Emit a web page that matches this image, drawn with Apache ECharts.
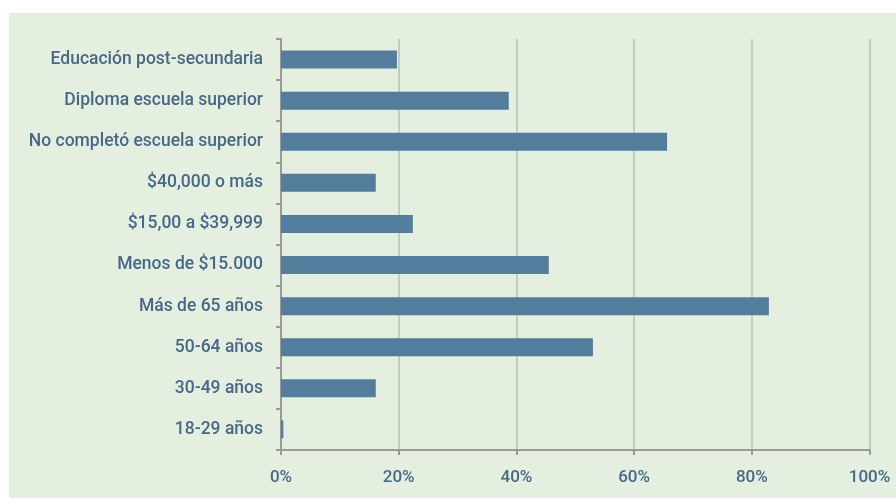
<!DOCTYPE html>
<html><head><meta charset="utf-8">
<script src="https://cdn.jsdelivr.net/npm/echarts@6/dist/echarts.min.js"></script>
<style>html,body{margin:0;padding:0;background:#fff}#c{width:896px;height:498px}</style>
</head><body><div id="c"></div>
<script>
var categories = ["18-29 años","30-49 años","50-64 años","Más de 65 años","Menos de $15.000","$15,00 a $39,999","$40,000 o más","No completó escuela superior","Diploma escuela superior","Educación post-secundaria"];
var values = [0.4,16.1,53.0,82.9,45.5,22.4,16.1,65.6,38.7,19.7];
var xTicks = [0,20,40,60,80,100];
var textColor = '#46698a';
var chart = echarts.init(document.getElementById('c'), null, {renderer:'canvas'});
chart.setOption({
  backgroundColor:'#ffffff',
  animation:false,
  graphic:[{type:'rect',left:9,top:13,shape:{width:887,height:485},style:{fill:'#e4efdf'},z:-10}],
  grid:{left:281,right:26.5,top:39,bottom:48,containLabel:false},
  xAxis:{type:'value',min:xTicks[0],max:xTicks[xTicks.length-1],interval:20,
    axisLine:{show:true,lineStyle:{color:'#999999',width:2}},
    axisTick:{show:true,length:5,lineStyle:{color:'#999999',width:2}},
    splitLine:{show:true,lineStyle:{color:'#c3cdbd',width:2}},
    axisLabel:{formatter:'{value}%',color:textColor,fontFamily:'Roboto',fontWeight:500,fontSize:17,margin:19}},
  yAxis:{type:'category',data:categories,
    axisLine:{show:true,lineStyle:{color:'#999999',width:2}},
    axisTick:{show:true,length:5,lineStyle:{color:'#999999',width:2}},
    axisLabel:{color:textColor,fontFamily:'Roboto',fontWeight:500,fontSize:17.5,margin:18}},
  series:[{type:'bar',data:values,barWidth:18,itemStyle:{color:'#527d9c'}}]
});
</script></body></html>
